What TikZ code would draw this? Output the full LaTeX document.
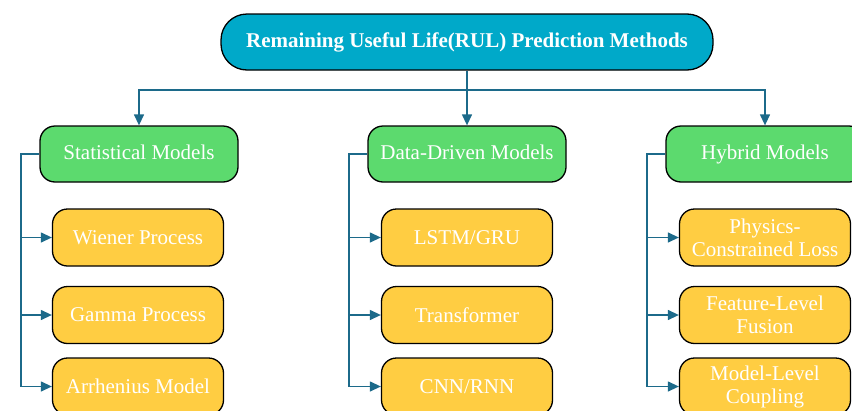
\documentclass[tikz,border=0pt]{standalone}
\usepackage{fontspec}
\setmainfont{Liberation Serif}
\usetikzlibrary{arrows.meta}
\definecolor{rootblue}{HTML}{00A9C9}
\definecolor{catgreen}{HTML}{5CDA6E}
\definecolor{leafyellow}{HTML}{FFCD42}
\definecolor{linkblue}{HTML}{1C6A8A}
\tikzset{
  boxbase/.style={draw=black, line width=1.3pt, text=white, align=center, inner sep=2pt},
  rootbox/.style={boxbase, fill=rootblue, rounded corners=26pt, minimum width=492pt, minimum height=56pt,
    font=\fontsize{21}{24}\selectfont\bfseries},
  catbox/.style={boxbase, fill=catgreen, rounded corners=15pt, minimum width=198pt, minimum height=56pt,
    text height=14pt, text depth=4pt, font=\fontsize{21}{23}\selectfont},
  leafbox/.style={boxbase, fill=leafyellow, rounded corners=15pt, minimum width=171pt, minimum height=57pt,
    font=\fontsize{21}{23}\selectfont},
  link/.style={draw=linkblue, line width=1.3pt},
  linkarrow/.style={link, -{Triangle[length=11pt,width=10pt]}}
}
\begin{document}
\begin{tikzpicture}[x=1pt,y=-1pt]
\clip (0,0) rectangle (852,410);
\fill[white] (0,0) rectangle (852,410);

% root
\node[rootbox] (root) at (467,42) {Remaining Useful Life(RUL) Prediction Methods};

% categories
\node[catbox] (stat) at (139,154) {Statistical Models};
\node[catbox] (data) at (467,154) {Data-Driven Models};
\node[catbox] (hyb)  at (765,154) {Hybrid Models};

% leaves: statistical
\node[leafbox] (s1) at (138,237.5) {Wiener Process};
\node[leafbox] (s2) at (138,315) {Gamma Process};
\node[leafbox] (s3) at (138,386.5) {Arrhenius Model};
% leaves: data-driven
\node[leafbox] (d1) at (467,237.5) {LSTM/GRU};
\node[leafbox] (d2) at (467,315) {Transformer};
\node[leafbox] (d3) at (467,386.5) {CNN/RNN};
% leaves: hybrid
\node[leafbox] (h1) at (765,237.5) {Physics-\\Constrained Loss};
\node[leafbox] (h2) at (765,315) {Feature-Level\\Fusion};
\node[leafbox] (h3) at (765,386.5) {Model-Level\\Coupling};

% root to categories
\coordinate (split) at (467,90);
\draw[link] (root.south) -- (split);
\draw[linkarrow] (split) -| (stat.north);
\draw[linkarrow] (split) -- (data.north);
\draw[linkarrow] (split) -| (hyb.north);

% category trunks
\coordinate (ts) at (21,154);
\coordinate (td) at (349,154);
\coordinate (th) at (647,154);
\draw[link] (stat.west) -- (ts) -- (ts |- s3.west);
\draw[link] (data.west) -- (td) -- (td |- d3.west);
\draw[link] (hyb.west) -- (th) -- (th |- h3.west);
\foreach \t/\leaf in {ts/s1, ts/s2, ts/s3, td/d1, td/d2, td/d3, th/h1, th/h2, th/h3}
  \draw[linkarrow] (\t |- \leaf.west) -- (\leaf.west);
\end{tikzpicture}
\end{document}
